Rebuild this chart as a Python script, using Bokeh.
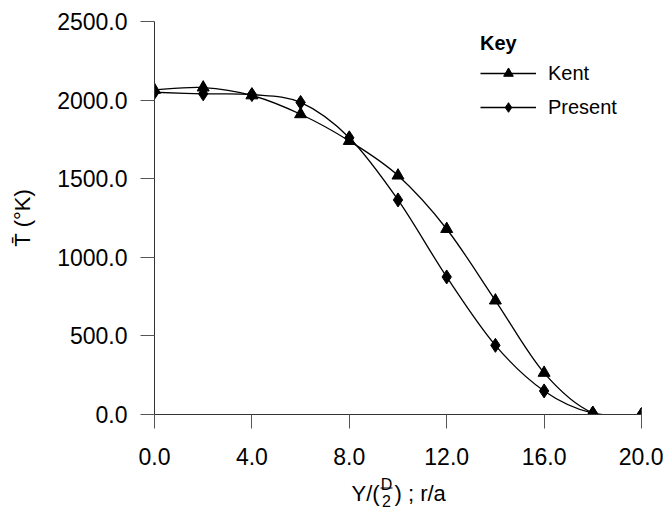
from bokeh.plotting import figure
from bokeh.layouts import column
from bokeh.models import (FixedTicker, PrintfTickFormatter, Label, Arrow, Legend,
                          LegendItem, ColumnDataSource, Range1d)
from bokeh.embed import file_html
from bokeh.resources import INLINE

# ---- data ----
x_vals = [0, 2, 4, 6, 8, 10, 12, 14, 16, 18, 20]
kent = [2065, 2080, 2030, 1910, 1740, 1520, 1180, 725, 265, 10, 0]
present = [2050, 2040, 2035, 1985, 1760, 1365, 875, 440, 150, 8, 0]
x_ticks = [0, 4, 8, 12, 16, 20]
y_ticks = [0, 500, 1000, 1500, 2000, 2500]
series_names = ["Kent", "Present"]

FONT = "Liberation Sans"

W = 663
H1, H2 = 470, 43
BL, BR, BT, BB = 154, 22, 21, 56

p = figure(width=W, height=H1, x_range=Range1d(0, 20), y_range=Range1d(0, 2500),
           output_backend="svg", toolbar_location=None,
           min_border_left=BL, min_border_right=BR, min_border_top=BT,
           min_border_bottom=BB)
p.outline_line_color = None
p.xgrid.visible = False
p.ygrid.visible = False


def smooth(xs, ys):
    n = len(xs)
    d = dict(x0=[], y0=[], x1=[], y1=[], cx0=[], cy0=[], cx1=[], cy1=[])
    for i in range(n - 1):
        a = max(i - 1, 0)
        b = min(i + 2, n - 1)
        d["x0"].append(xs[i]); d["y0"].append(ys[i])
        d["x1"].append(xs[i + 1]); d["y1"].append(ys[i + 1])
        d["cx0"].append(xs[i] + (xs[i + 1] - xs[a]) / 6.0)
        d["cy0"].append(ys[i] + (ys[i + 1] - ys[a]) / 6.0)
        d["cx1"].append(xs[i + 1] - (xs[b] - xs[i]) / 6.0)
        d["cy1"].append(ys[i + 1] - (ys[b] - ys[i]) / 6.0)
    return ColumnDataSource(d)


items = []
for name, ys, marker, size in [(series_names[0], kent, "triangle", 12),
                               (series_names[1], present, "diamond", 14)]:
    cr = p.bezier(x0="x0", y0="y0", x1="x1", y1="y1", cx0="cx0", cy0="cy0",
                  cx1="cx1", cy1="cy1", source=smooth(x_vals, ys),
                  line_color="black", line_width=1.3)
    mr = p.scatter(x_vals, ys, marker=marker, size=size, fill_color="black",
                   line_color="black")
    items.append(LegendItem(label=name, renderers=[cr, mr]))

# axes
for ax in (p.xaxis[0], p.yaxis[0]):
    ax.axis_line_color = "#333333"
    ax.major_tick_line_color = "#555555"
    ax.minor_tick_line_color = None
    ax.major_tick_in = 0
    ax.major_tick_out = 14
    ax.major_label_text_font = FONT
    ax.major_label_text_font_size = "23px"
    ax.major_label_text_color = "black"
    ax.formatter = PrintfTickFormatter(format="%.1f")

p.xaxis.ticker = FixedTicker(ticks=x_ticks)
p.yaxis.ticker = FixedTicker(ticks=y_ticks)
p.xaxis.major_label_standoff = 19
p.yaxis.major_label_standoff = 13

p.yaxis.axis_label = "T\u0304 (\u00b0K)"
p.yaxis.axis_label_text_font = FONT
p.yaxis.axis_label_text_font_size = "22px"
p.yaxis.axis_label_text_font_style = "normal"
p.yaxis.axis_label_text_color = "black"
p.yaxis.axis_label_standoff = 19

legend = Legend(items=items, location=(326, 295), title="Key",
                title_text_font=FONT, title_text_font_style="bold",
                title_text_font_size="20px", title_text_color="black",
                label_text_font=FONT, label_text_color="black",
                label_text_font_size="20px", glyph_width=56, glyph_height=24,
                label_height=24, label_standoff=12, spacing=10, padding=0,
                margin=0, border_line_color=None, background_fill_alpha=0,
                title_standoff=6)
p.add_layout(legend)

# ---- x axis title (with a stacked fraction) in a strip below the chart ----
p2 = figure(width=W, height=H2, x_range=Range1d(BL, W - BR), y_range=Range1d(0, H2),
            output_backend="svg", toolbar_location=None, title=None,
            x_axis_location=None, y_axis_location=None,
            min_border_left=BL, min_border_right=BR,
            min_border_top=0, min_border_bottom=0)
p2.outline_line_color = None
p2.xgrid.visible = False
p2.ygrid.visible = False

TY = 4  # upward shift of the whole title
p2.add_layout(Label(x=351, y=16 + TY, text="Y/(", text_font=FONT,
                    text_font_size="22px", text_align="left", text_color="black",
                    text_baseline="alphabetic"))
p2.add_layout(Label(x=386, y=25.5 + TY, text="D", text_font=FONT,
                    text_font_size="16px", text_align="center", text_color="black",
                    text_baseline="alphabetic"))
p2.add_layout(Label(x=386, y=8.5 + TY, text="2", text_font=FONT,
                    text_font_size="16px", text_align="center", text_color="black",
                    text_baseline="alphabetic"))
p2.add_layout(Arrow(end=None, x_start=380, y_start=21.5 + TY, x_end=392,
                    y_end=21.5 + TY, line_color="black", line_width=1))
p2.add_layout(Label(x=394, y=16 + TY, text=") ; r/a", text_font=FONT,
                    text_font_size="22px", text_align="left", text_color="black",
                    text_baseline="alphabetic"))

layout = column(p, p2, spacing=0)
open("out.html", "w").write(file_html(layout, INLINE))
